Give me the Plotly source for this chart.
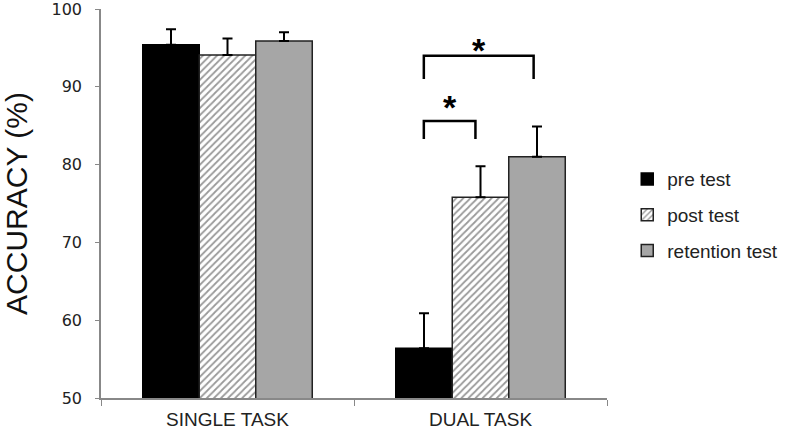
import plotly.graph_objects as go

categories = ["SINGLE TASK", "DUAL TASK"]
series_names = ["pre test", "post test", "retention test"]
pre_vals = [95.4, 56.4]
pre_err = [2.0, 4.5]
post_vals = [94.1, 75.8]
post_err = [2.1, 4.0]
ret_vals = [95.9, 81.0]
ret_err = [1.1, 3.9]
y_ticks = [50, 60, 70, 80, 90, 100]

# significance brackets (in category-axis units): x0, x1, y_top, y_leg
brackets = [(0.776, 0.98, 85.6, 83.3), (0.776, 1.21, 94.0, 91.0)]
star_pos = [(0.88, 88.4), (0.995, 95.8)]

fig = go.Figure()

def err(a):
    return dict(type="data", array=a, arrayminus=[0] * len(a), symmetric=False,
                color="black", thickness=2, width=5, visible=True)

fig.add_trace(go.Bar(
    x=categories, y=pre_vals, name=series_names[0], legendgroup="a",
    marker=dict(color="black", line=dict(color="black", width=1.5)),
    error_y=err(pre_err)))
fig.add_trace(go.Bar(
    x=categories, y=post_vals, name=series_names[1], legendgroup="b",
    marker=dict(color="white", line=dict(color="#222", width=1.5),
                pattern=dict(shape="/", fgcolor="#333", bgcolor="white", size=5, solidity=0.35)),
    error_y=err(post_err)))
fig.add_trace(go.Bar(
    x=categories, y=ret_vals, name=series_names[2], legendgroup="c",
    marker=dict(color="#a6a6a6", line=dict(color="#222", width=1.5)),
    error_y=err(ret_err)))

for x0, x1, yt, yl in brackets:
    fig.add_shape(type="path",
                  path=f"M {x0} {yl} L {x0} {yt} L {x1} {yt} L {x1} {yl}",
                  line=dict(color="black", width=2.5), xref="x", yref="y")
for sx, sy in star_pos:
    fig.add_annotation(x=sx, y=sy, text="<b>*</b>", showarrow=False, xref="x", yref="y",
                       font=dict(family="Liberation Sans, Arial", size=34, color="black"),
                       yshift=-8)

fig.update_layout(
    width=792, height=429,
    margin=dict(l=101, r=180, t=9, b=31),
    paper_bgcolor="white", plot_bgcolor="white",
    barmode="group", bargap=0.33, bargroupgap=0.0,
    showlegend=True,
    legend=dict(x=1.04, y=0.47, xanchor="left", yanchor="middle",
                font=dict(family="Liberation Sans, Arial", size=19, color="#222"),
                tracegroupgap=8, bgcolor="rgba(0,0,0,0)"),
    font=dict(family="Liberation Sans, Arial", color="#222"),
)
fig.update_xaxes(
    automargin=False,
    showline=True, linecolor="#888", linewidth=1.5,
    ticks="outside", tickson="boundaries", ticklen=6, tickcolor="#888",
    ticklabelstandoff=3,
    tickfont=dict(family="Liberation Sans, Arial", size=19, color="#222"),
    showgrid=False, zeroline=False)
fig.update_yaxes(
    automargin=False, ticklabeloverflow="allow",
    range=[50, 100], tickvals=y_ticks,
    showline=True, linecolor="#888", linewidth=1.5,
    ticks="outside", ticklen=4, tickcolor="#888",
    ticklabelstandoff=10,
    tickfont=dict(family="DejaVu Sans, Verdana", size=16, color="#222"),
    title=dict(text="ACCURACY (%)", standoff=19,
               font=dict(family="Liberation Sans, Arial", size=30, color="#111")),
    showgrid=False, zeroline=False)

fig.write_html("out.html", config={"displayModeBar": False},
               post_script="document.body.style.margin='0';")
